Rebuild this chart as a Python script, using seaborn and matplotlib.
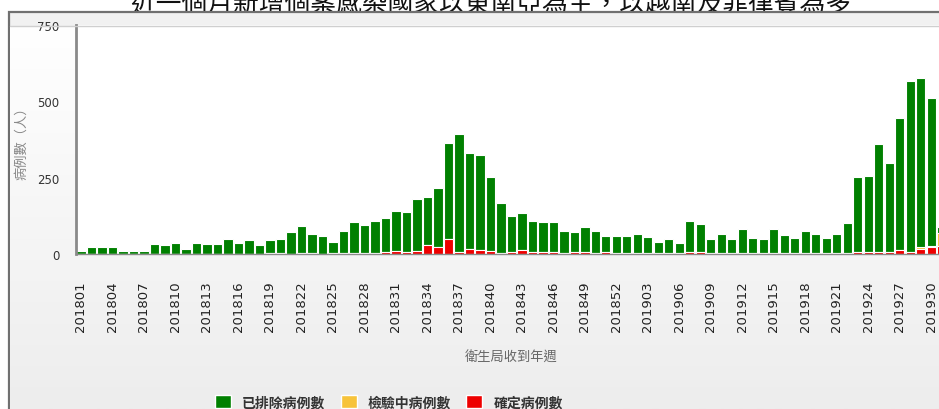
import matplotlib
matplotlib.use("Agg")
import matplotlib.pyplot as plt
from matplotlib.colors import LinearSegmentedColormap
from matplotlib.lines import Line2D
from matplotlib.patches import Patch, Rectangle
import numpy as np
import pandas as pd
import seaborn as sns

# Weekly case counts, 201801 .. 201931
weeks = [
    "201801", "201802", "201803", "201804", "201805", "201806", "201807", "201808",
    "201809", "201810", "201811", "201812", "201813", "201814", "201815", "201816",
    "201817", "201818", "201819", "201820", "201821", "201822", "201823", "201824",
    "201825", "201826", "201827", "201828", "201829", "201830", "201831", "201832",
    "201833", "201834", "201835", "201836", "201837", "201838", "201839", "201840",
    "201841", "201842", "201843", "201844", "201845", "201846", "201847", "201848",
    "201849", "201850", "201851", "201852", "201901", "201902", "201903", "201904",
    "201905", "201906", "201907", "201908", "201909", "201910", "201911", "201912",
    "201913", "201914", "201915", "201916", "201917", "201918", "201919", "201920",
    "201921", "201922", "201923", "201924", "201925", "201926", "201927", "201928",
    "201929", "201930", "201931",
]

# 已排除病例數
excluded = [
    11, 24, 24, 24, 11, 11, 9, 33, 28, 37, 15, 37, 32, 32, 50, 37,
    46, 28, 44, 48, 71, 89, 64, 58, 39, 72, 103, 94, 106, 112, 131, 132,
    169, 158, 193, 316, 387, 313, 310, 240, 166, 119, 120, 100, 99, 99, 73, 66,
    82, 73, 53, 56, 56, 63, 55, 38, 46, 35, 102, 91, 46, 62, 46, 80,
    51, 46, 80, 60, 51, 72, 63, 51, 63, 97, 243, 249, 354, 289, 430, 558,
    556, 484, 19,
]
# 檢驗中病例數
testing = [
    0, 0, 0, 0, 0, 0, 0, 0, 0, 0, 0, 0, 0, 0, 0, 0,
    0, 0, 0, 0, 0, 0, 0, 0, 0, 0, 0, 0, 0, 0, 0, 0,
    0, 0, 0, 0, 0, 0, 0, 0, 0, 0, 0, 0, 0, 0, 0, 0,
    0, 0, 0, 0, 0, 0, 0, 0, 0, 0, 0, 0, 0, 0, 0, 0,
    0, 0, 0, 0, 0, 0, 0, 0, 0, 0, 0, 0, 0, 0, 0, 0,
    4, 3, 44,
]
# 確定病例數
confirmed = [
    0, 0, 0, 0, 0, 0, 0, 0, 0, 0, 0, 0, 0, 0, 0, 0,
    0, 0, 2, 2, 0, 3, 2, 0, 2, 3, 2, 2, 3, 5, 11, 5,
    11, 29, 24, 48, 5, 18, 13, 11, 2, 5, 13, 8, 5, 5, 2, 5,
    5, 2, 5, 2, 2, 2, 2, 2, 2, 2, 6, 6, 2, 3, 2, 3,
    2, 2, 3, 2, 2, 2, 2, 2, 2, 3, 8, 6, 6, 8, 14, 8,
    18, 24, 26,
]

tick_weeks = weeks[0::3][:28]

GREEN = "#008000"
YELLOW = "#f7c33a"
RED = "#ee0000"
CJK = ["Noto Sans CJK TC", "DejaVu Sans"]

W, H = 939, 410


def fx(px):
    return px / W


def fy(py):
    return 1 - py / H


sns.set_style("white")
plt.rcParams["font.family"] = ["DejaVu Sans", "Noto Sans CJK TC"]

df = pd.DataFrame({
    "week": weeks,
    "excluded": excluded,
    "testing": testing,
    "confirmed": confirmed,
})
df["stack_top"] = df["excluded"] + df["testing"] + df["confirmed"]
df["stack_mid"] = df["testing"] + df["confirmed"]

fig = plt.figure(figsize=(W / 100, H / 100), dpi=100)
fig.patch.set_facecolor("white")

# outer frame of the screenshot
fig.add_artist(Rectangle((fx(9), -0.1), 1.0, fy(13) + 0.1, transform=fig.transFigure,
                         facecolor="#f1f1f1", edgecolor="#707070", linewidth=1.6, zorder=-3))

# light gradient background below header strip
bg = fig.add_axes([fx(10), 0, 1 - fx(10), fy(27)], zorder=-2)
grad = np.linspace(0, 1, 256).reshape(-1, 1)
cmap = LinearSegmentedColormap.from_list("bg", ["#ffffff", "#ededed"])
bg.imshow(grad, aspect="auto", cmap=cmap, extent=[0, 1, 0, 1], origin="upper")
bg.axis("off")
fig.add_artist(Line2D([fx(10), 1], [fy(26.5), fy(26.5)], transform=fig.transFigure,
                      color="#cfcfcf", linewidth=1, zorder=5))

# main plot, extends past the right edge like the cropped original
ax = fig.add_axes([0.0805, 0.378, 0.928, 0.5585], zorder=1)
ax.set_facecolor("white")

for col, color in [("stack_top", GREEN), ("stack_mid", YELLOW), ("confirmed", RED)]:
    sns.barplot(data=df, x="week", y=col, order=weeks, color=color, saturation=1,
                width=0.9, edgecolor="white", linewidth=0.8, ax=ax)

ax.set_xlim(-0.5, len(weeks) - 0.5)
ax.set_ylim(0, 750)
ax.set_yticks([0, 250, 500, 750])
ax.set_xticks([weeks.index(w) for w in tick_weeks])
ax.set_xticklabels(tick_weeks, rotation=90)

for side in ["top", "right"]:
    ax.spines[side].set_visible(False)
ax.spines["left"].set_color("#8a8a8a")
ax.spines["left"].set_linewidth(2)
ax.spines["bottom"].set_color("#8a8a8a")
ax.spines["bottom"].set_linewidth(1)

ax.tick_params(axis="y", length=0, pad=11.5, labelsize=8.5, labelcolor="#333333")
ax.tick_params(axis="x", length=7.5, width=1.1, color="#444444", pad=11.5,
               labelsize=9.5, labelcolor="#222222")

ax.set_ylabel("")
ax.set_xlabel("衛生局收到年週", fontsize=9.5, color="#666666", family=CJK)
ax.xaxis.set_label_coords(0.5, -0.42)

fig.text(fx(22), fy(140), "病例數（人）", rotation=90, ha="center", va="center",
         fontsize=9.5, color="#888888", family=CJK)

# title, clipped at the top like the screenshot
fig.text(fx(130), fy(12), "近一個月新增個案感染國家以東南亞為主，以越南及菲律賓為多",
         ha="left", va="baseline", fontsize=18.5, color="#111111", family=CJK, zorder=-4)

handles = [
    Patch(facecolor=GREEN, label="已排除病例數"),
    Patch(facecolor=YELLOW, label="檢驗中病例數"),
    Patch(facecolor=RED, label="確定病例數"),
]
leg = fig.legend(handles=handles, loc="center", bbox_to_anchor=(fx(389), fy(403)),
                 ncol=3, frameon=False, handlelength=1.15, handleheight=1.15,
                 handletextpad=0.8, columnspacing=1.1,
                 prop={"family": CJK, "size": 10, "weight": "bold"})
for t in leg.get_texts():
    t.set_color("#333333")

fig.savefig("out.png", dpi=100, facecolor=fig.get_facecolor())
